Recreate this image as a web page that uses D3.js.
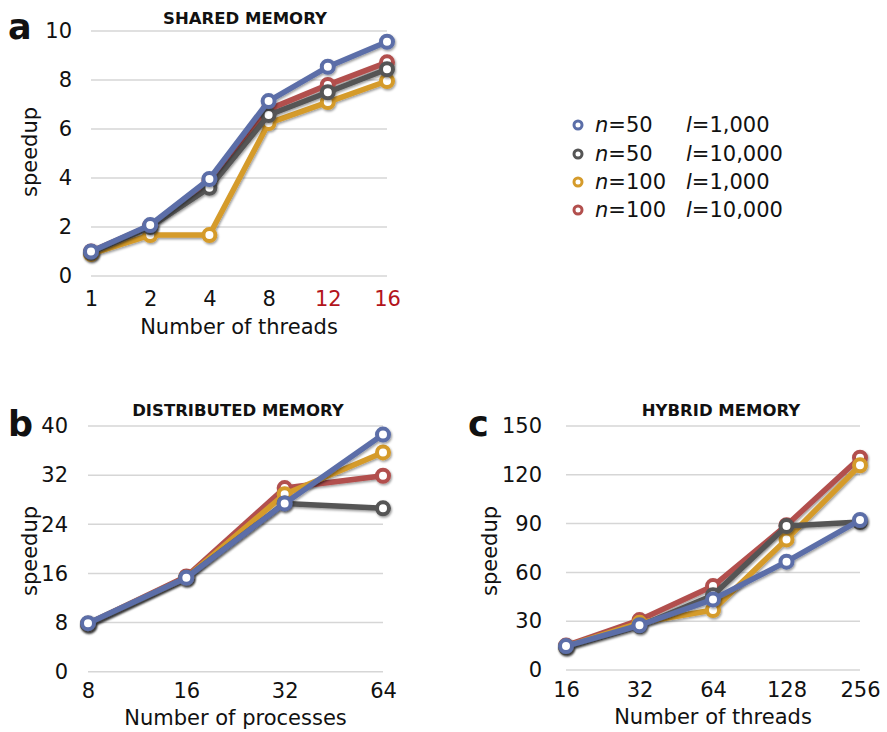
<!DOCTYPE html>
<html>
<head>
<meta charset="utf-8">
<script src="https://cdn.jsdelivr.net/npm/d3@7"></script>
<style>
  body { margin: 0; background: #fff; }
  text { font-family: "DejaVu Sans", sans-serif; }
</style>
</head>
<body>
<svg id="chart" width="887" height="732"></svg>
<script>
// series names and colours
var seriesNames = ["n50_l1000", "n50_l10000", "n100_l1000", "n100_l10000"];
var seriesColors = ["#5b6ea8", "#555555", "#d59b2b", "#b24f4d"];

// panel a : shared memory
var sharedThreads = ["1", "2", "4", "8", "12", "16"];
var sharedBlue   = [1.0, 2.08, 3.96, 7.14, 8.54, 9.56];
var sharedGray   = [0.95, 2.0, 3.6, 6.57, 7.5, 8.44];
var sharedYellow = [0.9, 1.67, 1.67, 6.24, 7.1, 7.96];
var sharedRed    = [1.0, 2.05, 3.9, 6.8, 7.8, 8.72];
var sharedTicks  = [0, 2, 4, 6, 8, 10];

// panel b : distributed memory
var distProcs  = ["8", "16", "32", "64"];
var distBlue   = [7.9, 15.3, 27.4, 38.6];
var distGray   = [7.7, 15.3, 27.4, 26.6];
var distYellow = [7.8, 15.3, 28.9, 35.7];
var distRed    = [7.8, 15.5, 29.9, 31.9];
var distTicks  = [0, 8, 16, 24, 32, 40];

// panel c : hybrid memory
var hybThreads = ["16", "32", "64", "128", "256"];
var hybBlue   = [14.7, 27.5, 43.4, 66.6, 92.2];
var hybGray   = [14.0, 27.0, 46.0, 88.5, 91.0];
var hybYellow = [14.5, 29.0, 36.9, 80.3, 125.8];
var hybRed    = [15.0, 30.7, 51.6, 89.0, 130.5];
var hybTicks  = [0, 30, 60, 90, 120, 150];

var svg = d3.select("#chart");

var defs = svg.append("defs");
var f = defs.append("filter").attr("id", "shadow")
  .attr("x", "-20%").attr("y", "-20%").attr("width", "140%").attr("height", "140%");
f.append("feDropShadow").attr("dx", 1).attr("dy", 1.5).attr("stdDeviation", 1.3)
  .attr("flood-color", "#000").attr("flood-opacity", 0.4);

var panels = [
  { letter: "a", title: "SHARED MEMORY", cats: sharedThreads, ticks: sharedTicks,
    series: [sharedBlue, sharedGray, sharedYellow, sharedRed],
    xr: [91, 387], yr: [276, 31], tickX: 72, letterX: 8, letterY: 39, titleX: 245, titleY: 24,
    ylabX: 30, ylabY: 152, xTickTop: 291, xTitle: "Number of threads", xTitleY: 334,
    redTicks: ["12", "16"] },
  { letter: "b", title: "DISTRIBUTED MEMORY", cats: distProcs, ticks: distTicks,
    series: [distBlue, distGray, distYellow, distRed],
    xr: [88, 383], yr: [671.7, 426], tickX: 68, letterX: 8, letterY: 436, titleX: 238, titleY: 416,
    ylabX: 30, ylabY: 551, xTickTop: 683, xTitle: "Number of processes", xTitleY: 725,
    redTicks: [] },
  { letter: "c", title: "HYBRID MEMORY", cats: hybThreads, ticks: hybTicks,
    series: [hybBlue, hybGray, hybYellow, hybRed],
    xr: [566, 860], yr: [670, 426], tickX: 542, letterX: 468, letterY: 436, titleX: 721, titleY: 416,
    ylabX: 490, ylabY: 551, xTickTop: 682, xTitle: "Number of threads", xTitleY: 724,
    redTicks: [] }
];

// draw order: red, yellow, gray, blue on top
var drawOrder = [3, 2, 1, 0];

panels.forEach(function(p) {
  var x = d3.scalePoint().domain(p.cats).range(p.xr);
  var y = d3.scaleLinear().domain([p.ticks[0], p.ticks[p.ticks.length - 1]]).range(p.yr);
  var g = svg.append("g");

  // gridlines
  g.selectAll(".grid").data(p.ticks).enter().append("line")
    .attr("x1", p.xr[0]).attr("x2", p.xr[1])
    .attr("y1", function(d) { return y(d); }).attr("y2", function(d) { return y(d); })
    .attr("stroke", "#d6d6d6").attr("stroke-width", 1.5);

  // y axis labels
  var ya = g.append("g").attr("transform", "translate(" + p.tickX + ",0)")
    .call(d3.axisLeft(y).tickValues(p.ticks).tickSize(0).tickPadding(0));
  ya.select(".domain").remove();
  ya.selectAll("text").style("font-family", "DejaVu Sans").style("font-size", "21px").style("fill", "#111");

  // x axis labels
  var xa = g.append("g").attr("transform", "translate(0," + p.xTickTop + ")")
    .call(d3.axisBottom(x).tickSize(0).tickPadding(0));
  xa.select(".domain").remove();
  xa.selectAll("text").style("font-family", "DejaVu Sans").style("font-size", "21px")
    .style("fill", function(d) { return p.redTicks.indexOf(d) >= 0 ? "#b3141b" : "#111"; });

  g.append("text").attr("x", d3.mean(p.xr)).attr("y", p.xTitleY)
    .attr("text-anchor", "middle").style("font-size", "21px").style("fill", "#111").text(p.xTitle);

  g.append("text").attr("transform", "translate(" + p.ylabX + "," + p.ylabY + ") rotate(-90)")
    .attr("text-anchor", "middle").attr("dy", "0.35em").style("font-size", "21px").style("fill", "#111")
    .text("speedup");

  g.append("text").attr("x", p.titleX).attr("y", p.titleY).attr("text-anchor", "middle")
    .style("font-size", "16.5px").style("font-weight", "bold").style("fill", "#111").text(p.title);

  g.append("text").attr("x", p.letterX).attr("y", p.letterY)
    .style("font-size", "35px").style("font-weight", "bold").style("fill", "#111").text(p.letter);

  var line = d3.line().x(function(d, i) { return x(p.cats[i]); }).y(function(d) { return y(d); });

  drawOrder.forEach(function(si) {
    var vals = p.series[si];
    var sg = g.append("g").attr("filter", "url(#shadow)");
    sg.append("path").datum(vals).attr("d", line)
      .attr("fill", "none").attr("stroke", seriesColors[si]).attr("stroke-width", 5.5)
      .attr("stroke-linejoin", "round");
    sg.selectAll("circle").data(vals).enter().append("circle")
      .attr("cx", function(d, i) { return x(p.cats[i]); })
      .attr("cy", function(d) { return y(d); })
      .attr("r", 6).attr("fill", "#fff")
      .attr("stroke", seriesColors[si]).attr("stroke-width", 4);
  });
});

// legend
var legN = ["50", "50", "100", "100"];
var legL = ["1,000", "10,000", "1,000", "10,000"];
var legY = [125, 154, 182, 210];
var leg = svg.append("g");
seriesNames.forEach(function(s, i) {
  leg.append("circle").attr("cx", 578).attr("cy", legY[i]).attr("r", 4)
    .attr("fill", "#fff").attr("stroke", seriesColors[i]).attr("stroke-width", 3);
  var t1 = leg.append("text").attr("x", 595).attr("y", legY[i]).attr("dy", "0.35em")
    .style("font-size", "21px").style("fill", "#111");
  t1.append("tspan").style("font-style", "italic").text("n");
  t1.append("tspan").text("=" + legN[i]);
  var t2 = leg.append("text").attr("x", 686).attr("y", legY[i]).attr("dy", "0.35em")
    .style("font-size", "21px").style("fill", "#111");
  t2.append("tspan").style("font-style", "italic").text("l");
  t2.append("tspan").text("=" + legL[i]);
});
</script>
</body>
</html>
